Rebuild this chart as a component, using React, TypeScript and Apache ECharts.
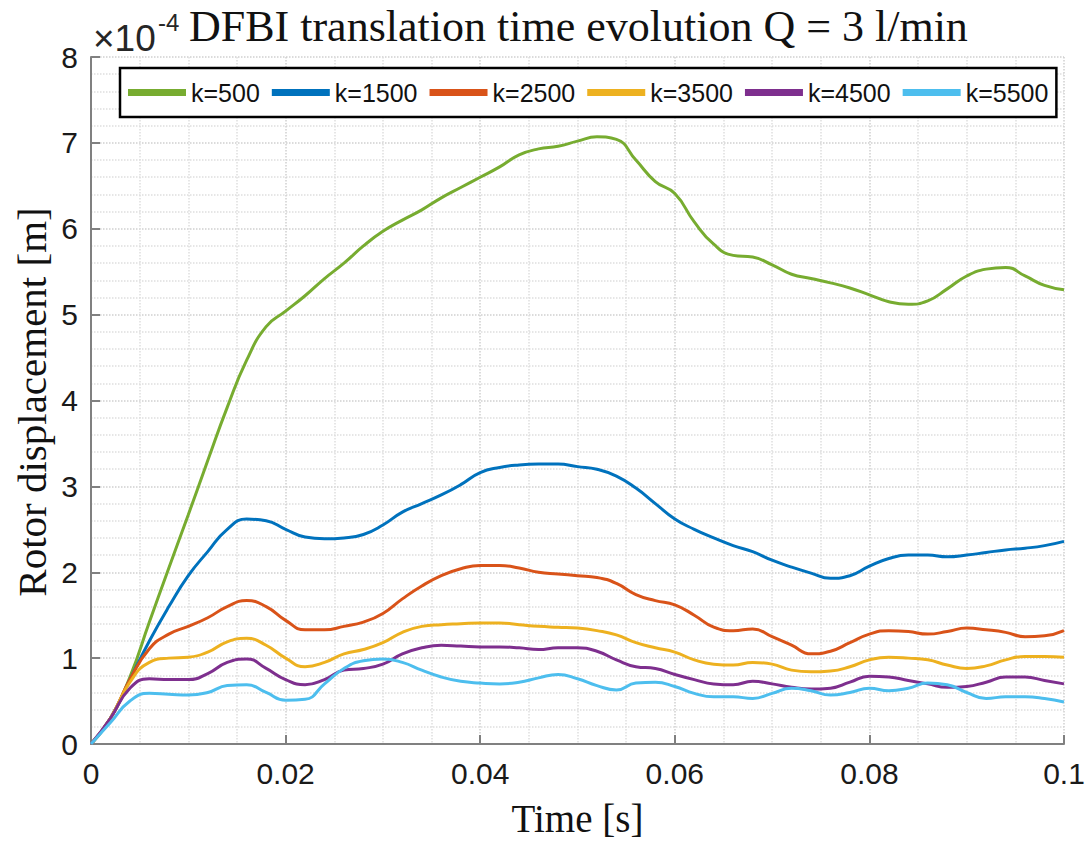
import React, { useEffect, useRef } from "react";
import * as echarts from "echarts";

// Time axis [s]
const time = [
  0, 0.002, 0.004, 0.006, 0.008, 0.01, 0.012, 0.014, 0.016, 0.018,
  0.02, 0.022, 0.024, 0.026, 0.028, 0.03, 0.032, 0.034, 0.036, 0.038,
  0.04, 0.042, 0.044, 0.046, 0.048, 0.05, 0.052, 0.054, 0.056, 0.058,
  0.06, 0.062, 0.064, 0.066, 0.068, 0.07, 0.072, 0.074, 0.076, 0.078,
  0.08, 0.082, 0.084, 0.086, 0.088, 0.09, 0.092, 0.094, 0.096, 0.098, 0.1,
];

// Rotor displacement in units of 1e-4 m
const k500 = [
  0, 0.3, 0.78, 1.42, 2.05, 2.67, 3.3, 3.92, 4.47, 4.86,
  5.04, 5.22, 5.42, 5.6, 5.8, 5.97, 6.1, 6.22, 6.36, 6.48,
  6.6, 6.72, 6.86, 6.93, 6.96, 7.02, 7.07, 7.04, 6.8, 6.55,
  6.41, 6.08, 5.82, 5.69, 5.67, 5.58, 5.47, 5.42, 5.37, 5.31,
  5.23, 5.15, 5.12, 5.16, 5.3, 5.45, 5.53, 5.55, 5.45, 5.34, 5.29,
];
const k1500 = [
  0, 0.3, 0.75, 1.2, 1.6, 1.96, 2.24, 2.5, 2.62, 2.6,
  2.5, 2.41, 2.39, 2.4, 2.44, 2.55, 2.7, 2.8, 2.9, 3.02,
  3.16, 3.22, 3.25, 3.26, 3.26, 3.23, 3.2, 3.12, 2.98, 2.8,
  2.62, 2.5, 2.4, 2.31, 2.24, 2.14, 2.06, 1.99, 1.93, 1.96,
  2.07, 2.16, 2.2, 2.2, 2.18, 2.2, 2.23, 2.26, 2.28, 2.31, 2.36,
];
const k2500 = [
  0, 0.3, 0.75, 1.11, 1.28, 1.37, 1.47, 1.6, 1.67, 1.6,
  1.44, 1.33, 1.33, 1.37, 1.42, 1.52, 1.69, 1.84, 1.96, 2.04,
  2.08, 2.08, 2.05, 2.0, 1.98, 1.96, 1.94, 1.87, 1.74, 1.67,
  1.62, 1.5, 1.36, 1.32, 1.34, 1.25, 1.15, 1.05, 1.08, 1.18,
  1.28, 1.32, 1.31, 1.28, 1.31, 1.35, 1.33, 1.3, 1.25, 1.26, 1.32,
];
const k3500 = [
  0, 0.3, 0.72, 0.95, 1.0, 1.01, 1.07, 1.19, 1.23, 1.15,
  1.0, 0.9, 0.95, 1.05, 1.1, 1.18, 1.3, 1.37, 1.39, 1.4,
  1.41, 1.41, 1.39, 1.37, 1.36, 1.35, 1.32, 1.27, 1.18, 1.12,
  1.07, 0.98, 0.93, 0.92, 0.95, 0.93, 0.86, 0.84, 0.85, 0.9,
  0.98, 1.01, 1.0, 0.98, 0.92, 0.88, 0.91, 0.98, 1.02, 1.02, 1.01,
];
const k4500 = [
  0, 0.3, 0.65, 0.76, 0.75, 0.75, 0.82, 0.95, 0.99, 0.88,
  0.75, 0.69, 0.75, 0.86, 0.88, 0.93, 1.05, 1.12, 1.15, 1.14,
  1.13, 1.13, 1.12, 1.1, 1.12, 1.12, 1.08, 0.98, 0.9, 0.88,
  0.81, 0.75, 0.7, 0.69, 0.73, 0.7, 0.66, 0.64, 0.65, 0.72,
  0.79, 0.78, 0.74, 0.7, 0.66, 0.67, 0.72, 0.78, 0.78, 0.74, 0.7,
];
const k5500 = [
  0, 0.25, 0.5, 0.59, 0.58, 0.57, 0.6, 0.68, 0.69, 0.6,
  0.51, 0.52, 0.7, 0.88, 0.97, 0.99, 0.95, 0.86, 0.78, 0.73,
  0.71, 0.7, 0.72, 0.77, 0.81, 0.76, 0.68, 0.63, 0.71, 0.72,
  0.67, 0.59, 0.55, 0.55, 0.53, 0.59, 0.65, 0.62, 0.57, 0.6,
  0.65, 0.62, 0.65, 0.71, 0.69, 0.6, 0.53, 0.55, 0.55, 0.53, 0.49,
];

const seriesNames = ["k=500", "k=1500", "k=2500", "k=3500", "k=4500", "k=5500"];
const seriesValues = [k500, k1500, k2500, k3500, k4500, k5500];
const seriesColors = ["#77AC30", "#0072BD", "#D95319", "#EDB120", "#7E2F8E", "#4DBEEE"];

const xTicks = { min: 0, max: 0.1, interval: 0.02 };
const yTicks = { min: 0, max: 8, interval: 1 };

const titleText = "DFBI translation time evolution Q = 3 l/min";
const yLabel = "Rotor displacement [m]";
const xLabel = "Time [s]";

const SANS = '"Liberation Sans", Arial, Helvetica, sans-serif';
const SERIF = '"Liberation Serif", "Times New Roman", serif';
const AXIS_COLOR = "#808080";

export default function App() {
  const ref = useRef<HTMLDivElement>(null);

  useEffect(() => {
    if (!ref.current) return;
    const chart = echarts.init(ref.current, null, { renderer: "svg" });
    const option = {
      animation: false,
      backgroundColor: "#ffffff",
      grid: { left: 91, right: 27, top: 57, bottom: 102, containLabel: false },
      legend: {
        data: seriesNames,
        left: 120,
        top: 68,
        orient: "horizontal",
        icon: "rect",
        itemWidth: 58,
        itemHeight: 7,
        itemGap: 12,
        padding: [12, 8, 12, 8],
        borderColor: "#000000",
        borderWidth: 2.5,
        backgroundColor: "#ffffff",
        textStyle: { fontSize: 25, fontFamily: SANS, color: "#111111" },
      },
      xAxis: {
        type: "value",
        min: xTicks.min,
        max: xTicks.max,
        interval: xTicks.interval,
        name: xLabel,
        nameLocation: "middle",
        nameGap: 55,
        nameTextStyle: { fontFamily: SERIF, fontSize: 39, color: "#111111" },
        axisLine: { show: true, onZero: false, lineStyle: { color: AXIS_COLOR, width: 2 } },
        axisTick: { show: true, inside: true, length: 9, lineStyle: { color: AXIS_COLOR, width: 2 } },
        axisLabel: {
          fontSize: 30,
          fontFamily: SANS,
          color: "#1a1a1a",
          margin: 14,
          formatter: (v: number) => String(parseFloat(v.toFixed(3))),
        },
        splitLine: { show: true, lineStyle: { type: "dotted", color: "#cfcfcf", width: 1.5 } },
        minorTick: { show: false, splitNumber: 4 },
        minorSplitLine: { show: true, lineStyle: { type: "dotted", color: "#dedede", width: 1.5 } },
      },
      yAxis: {
        type: "value",
        min: yTicks.min,
        max: yTicks.max,
        interval: yTicks.interval,
        axisLine: { show: true, onZero: false, lineStyle: { color: AXIS_COLOR, width: 2 } },
        axisTick: { show: true, inside: true, length: 9, lineStyle: { color: AXIS_COLOR, width: 2 } },
        axisLabel: { fontSize: 30, fontFamily: SANS, color: "#1a1a1a", margin: 13 },
        splitLine: { show: true, lineStyle: { type: "dotted", color: "#cfcfcf", width: 1.5 } },
        minorTick: { show: false, splitNumber: 5 },
        minorSplitLine: { show: true, lineStyle: { type: "dotted", color: "#dedede", width: 1.5 } },
      },
      series: seriesNames.map((name, i) => ({
        name,
        type: "line",
        showSymbol: false,
        smooth: 0.5,
        color: seriesColors[i],
        lineStyle: { width: 3, color: seriesColors[i] },
        data: time.map((t, j) => [t, seriesValues[i][j]]),
      })),
      graphic: [
        {
          type: "text",
          x: 93,
          y: 38,
          style: {
            text: "×10",
            fontSize: 37,
            fontFamily: SANS,
            fill: "#262626",
            textVerticalAlign: "middle",
            textAlign: "left",
          },
        },
        {
          type: "text",
          x: 158,
          y: 22,
          style: {
            text: "-4",
            fontSize: 24,
            fontFamily: SANS,
            fill: "#262626",
            textVerticalAlign: "middle",
            textAlign: "left",
          },
        },
        {
          type: "text",
          x: 189,
          y: 26,
          style: {
            text: titleText,
            fontSize: 44,
            fontFamily: SERIF,
            fill: "#111111",
            textVerticalAlign: "middle",
            textAlign: "left",
          },
        },
        {
          type: "text",
          x: 32,
          y: 402,
          rotation: Math.PI / 2,
          style: {
            text: yLabel,
            fontSize: 41,
            fontFamily: SERIF,
            fill: "#111111",
            textVerticalAlign: "middle",
            textAlign: "center",
          },
        },
      ],
    };
    chart.setOption(option as any);
    return () => chart.dispose();
  }, []);

  return (
    <div
      ref={ref}
      style={{ position: "absolute", left: 0, top: 0, width: 1091, height: 846 }}
    />
  );
}
